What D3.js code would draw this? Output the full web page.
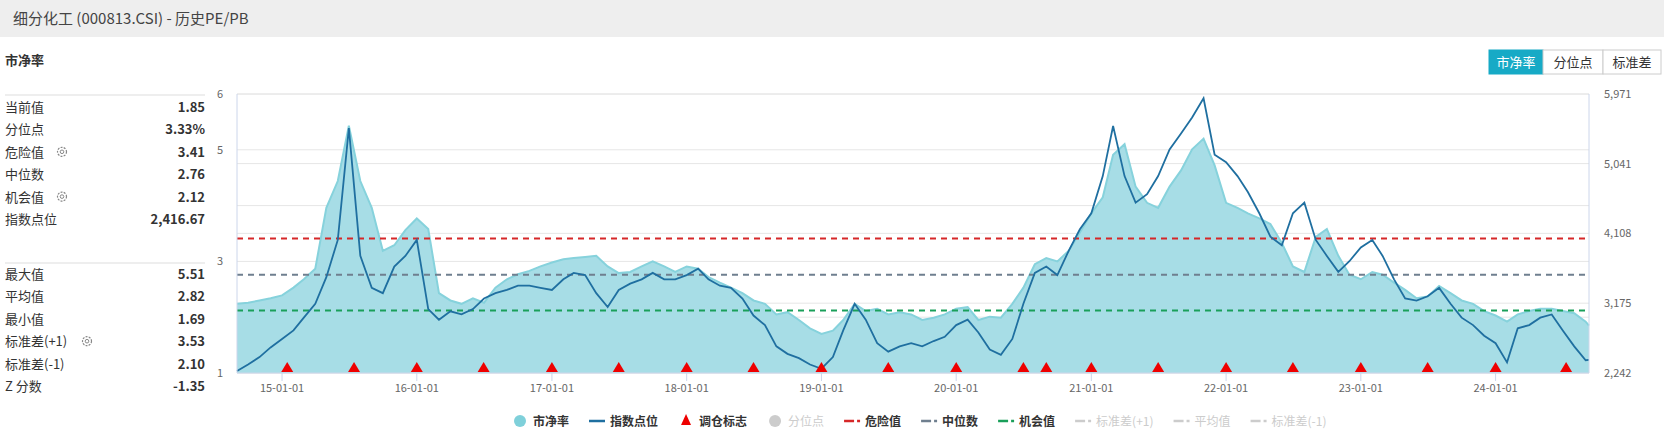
<!DOCTYPE html>
<html><head><meta charset="utf-8">
<script src="https://cdn.jsdelivr.net/npm/d3@7"></script>
<style>body{margin:0;background:#fff;font-family:"Noto Sans CJK SC","Noto Sans",sans-serif}</style>
</head><body><svg id="c" width="1664" height="447"></svg>
<script>
const months = d3.timeMonths(new Date(2014,8,1), new Date(2024,9,1)); // 2014-09 .. 2024-09
const pbValues = [2.24,2.26,2.30,2.34,
2.39,2.53,2.68,2.87,3.96,4.44,5.43,4.44,3.96,3.19,3.29,3.56,
3.77,3.58,2.43,2.30,2.24,2.34,2.26,2.53,2.68,2.77,2.83,2.91,
2.98,3.04,3.06,3.08,3.10,2.91,2.79,2.81,2.91,3.00,2.91,2.81,
2.91,2.87,2.72,2.62,2.53,2.43,2.30,2.24,2.05,2.09,1.95,1.80,
1.70,1.76,1.95,2.24,2.11,2.15,2.05,2.09,2.05,1.95,1.99,2.05,
2.15,2.18,1.95,2.01,1.99,2.24,2.53,2.95,3.06,3.00,3.19,3.52,
3.86,4.15,4.91,5.10,4.34,4.05,3.96,4.34,4.63,5.01,5.20,4.72,
4.05,3.96,3.86,3.77,3.67,3.33,2.91,2.81,3.44,3.58,3.10,2.76,
2.68,2.81,2.76,2.62,2.49,2.34,2.37,2.56,2.43,2.30,2.24,2.11,
2.03,1.92,2.05,2.11,2.15,2.15,2.11,2.07,1.92];
const indexValues = [2270,2356,2455,2584,
2697,2811,2982,3167,3523,4021,5515,3807,3380,3309,3665,3807,
4021,3096,2954,3067,3025,3096,3238,3309,3352,3409,3409,3380,
3352,3494,3580,3551,3309,3124,3352,3437,3494,3580,3494,3494,
3551,3637,3494,3409,3380,3238,3010,2882,2598,2498,2441,2356,
2299,2455,2811,3167,2954,2640,2527,2598,2640,2598,2669,2726,
2882,2954,2783,2555,2484,2697,3167,3580,3665,3551,3878,4163,
4377,4874,5543,4874,4519,4633,4874,5230,5444,5657,5913,5159,
5060,4874,4661,4377,4063,3950,4377,4519,4021,3807,3594,3736,
3921,4021,3807,3494,3238,3210,3267,3380,3167,2982,2882,2740,
2640,2384,2840,2882,2982,3025,2811,2598,2413];
const endDate = new Date(2024,8,10), endPb = 1.85, endIndex = 2416.67;
const rebalanceDates = ["2015-01-15","2015-07-15","2016-01-01","2016-06-30","2017-01-01","2017-07-01","2018-01-01","2018-07-01","2019-01-01","2019-07-01","2020-01-01","2020-07-01","2020-09-01","2021-01-01","2021-07-01","2022-01-01","2022-07-01","2023-01-01","2023-07-01","2024-01-01","2024-07-10"];
const refLines = [{name:"危险值",v:3.41,c:"#d62728"},{name:"中位数",v:2.76,c:"#6f7f8f"},{name:"机会值",v:2.12,c:"#1a9f5a"}];
const leftTicks = [1,3,5,6], leftGrid=[1,2,3,4,5,6];
const rightTicks = [2242,3175,4108,5041,5971];
const statsTop = [["当前值","1.85",0],["分位点","3.33%",0],["危险值","3.41",1],["中位数","2.76",0],["机会值","2.12",1],["指数点位","2,416.67",0]];
const statsBottom = [["最大值","5.51",0],["平均值","2.82",0],["最小值","1.69",0],["标准差(+1)","3.53",1],["标准差(-1)","2.10",0],["Z 分数","-1.35",0]];
const xTickLabels = ["15-01-01","16-01-01","17-01-01","18-01-01","19-01-01","20-01-01","21-01-01","22-01-01","23-01-01","24-01-01"];
const legendItems = [["市净率","circle","#7fd0da",1],["指数点位","line","#1f6fa0",1],["调仓标志","tri","#ee0000",1],["分位点","circle","#cccccc",0],["危险值","dash","#d62728",1],["中位数","dash","#6f7f8f",1],["机会值","dash","#1a9f5a",1],["标准差(+1)","dash","#cccccc",0],["平均值","dash","#cccccc",0],["标准差(-1)","dash","#cccccc",0]];

const pbData = months.map((d,i)=>({d,v:pbValues[i]})).slice(0,pbValues.length); pbData.push({d:endDate,v:endPb});
const idxData = months.map((d,i)=>({d,v:indexValues[i]})).slice(0,indexValues.length); idxData.push({d:endDate,v:endIndex});

const svg=d3.select("#c");
const L=237,R=1589,T=94,B=373;
const x=d3.scaleTime().domain([new Date(2014,8,1),endDate]).range([L,R]);
const yL=d3.scaleLinear().domain([1,6]).range([B,T]);
const yR=d3.scaleLinear().domain([2242,5971]).range([B,T]);

svg.append("rect").attr("width",1664).attr("height",37).attr("fill","#eeeeee");
svg.append("text").attr("x",13).attr("y",24).attr("font-size",15).attr("fill","#444").text("细分化工 (000813.CSI) - 历史PE/PB");
svg.append("text").attr("x",5).attr("y",65).attr("font-size",13).attr("font-weight","bold").attr("fill","#333").text("市净率");

const VX=205;
function stats(rows,y0,lineY){
  svg.append("line").attr("x1",5).attr("x2",VX).attr("y1",lineY).attr("y2",lineY).attr("stroke","#ddd");
  rows.forEach((r,i)=>{const y=y0+i*22.4;
    svg.append("text").attr("x",5).attr("y",y).attr("font-size",13).attr("fill","#333").text(r[0]);
    if(r[2]){const w=r[0].length>3?75:50; const g=svg.append("g").attr("transform",`translate(${w+12},${y-5})`);
      g.append("circle").attr("r",4.5).attr("fill","none").attr("stroke","#888").attr("stroke-width",1.2).attr("stroke-dasharray","2 1.2");
      g.append("circle").attr("r",1.8).attr("fill","none").attr("stroke","#888");}
    svg.append("text").attr("x",VX).attr("y",y).attr("text-anchor","end").attr("font-size",13).attr("font-weight","bold").attr("fill","#333").text(r[1]);
  });
}
stats(statsTop,112,95); stats(statsBottom,279,263);

[["市净率",1489,1543,1],["分位点",1543,1603,0],["标准差",1603,1661,0]].forEach(b=>{
  svg.append("rect").attr("x",b[1]).attr("y",50).attr("width",b[2]-b[1]).attr("height",24).attr("fill",b[3]?"#17aac6":"#fff").attr("stroke",b[3]?"#17aac6":"#ccc");
  svg.append("text").attr("x",(b[1]+b[2])/2).attr("y",67).attr("text-anchor","middle").attr("font-size",13).attr("fill",b[3]?"#fff":"#333").text(b[0]);
});

leftGrid.forEach(v=>svg.append("line").attr("x1",L).attr("x2",R).attr("y1",yL(v)).attr("y2",yL(v)).attr("stroke","#e6e6e6"));
rightTicks.forEach(v=>svg.append("line").attr("x1",L).attr("x2",R).attr("y1",yR(v)).attr("y2",yR(v)).attr("stroke","#e6e6e6"));
leftTicks.forEach(v=>svg.append("text").attr("x",L-14).attr("y",yL(v)+4).attr("text-anchor","end").attr("font-size",11).attr("fill","#666").text(v));
rightTicks.forEach(v=>svg.append("text").attr("x",R+15).attr("y",yR(v)+4).attr("font-size",11).attr("fill","#666").text(d3.format(",")(v)));

svg.append("path").datum(pbData).attr("fill","#a7dde6").attr("d",d3.area().x(d=>x(d.d)).y0(B).y1(d=>yL(d.v)));
svg.append("path").datum(pbData).attr("fill","none").attr("stroke","#86d2dc").attr("stroke-width",2).attr("d",d3.line().x(d=>x(d.d)).y(d=>yL(d.v)));
refLines.forEach(r=>svg.append("line").attr("x1",L).attr("x2",R).attr("y1",yL(r.v)).attr("y2",yL(r.v)).attr("stroke",r.c).attr("stroke-width",2).attr("stroke-dasharray","6 5"));
svg.append("path").datum(idxData).attr("fill","none").attr("stroke","#1f6fa0").attr("stroke-width",1.8).attr("d",d3.line().x(d=>x(d.d)).y(d=>yR(d.v)));

svg.append("line").attr("x1",L).attr("x2",L).attr("y1",T).attr("y2",B).attr("stroke","#ccd6eb");
svg.append("line").attr("x1",R).attr("x2",R).attr("y1",T).attr("y2",B).attr("stroke","#ccd6eb");
svg.append("line").attr("x1",L).attr("x2",R).attr("y1",B).attr("y2",B).attr("stroke","#ccd6eb");
xTickLabels.forEach(s=>{const d=d3.timeParse("%y-%m-%d")(s); const xx=x(d);
  svg.append("line").attr("x1",xx).attr("x2",xx).attr("y1",B).attr("y2",B+8).attr("stroke","#ccd6eb");
  svg.append("text").attr("x",xx).attr("y",B+19).attr("text-anchor","middle").attr("font-size",11).attr("fill","#666").text(s);});
rebalanceDates.forEach(s=>{const xx=x(d3.timeParse("%Y-%m-%d")(s));
  svg.append("path").attr("d",`M${xx},${B-11}L${xx+6},${B-1}L${xx-6},${B-1}Z`).attr("fill","#ee0000");});

let lx=520; const ly=421;
legendItems.forEach(it=>{const g=svg.append("g").attr("transform",`translate(${lx},${ly})`);
  if(it[1]=="circle") g.append("circle").attr("cx",0).attr("r",6).attr("fill",it[2]);
  else if(it[1]=="line") g.append("line").attr("x1",-8).attr("x2",8).attr("stroke",it[2]).attr("stroke-width",2.5);
  else if(it[1]=="tri") g.append("path").attr("d","M0,-7L5,4L-5,4Z").attr("fill",it[2]);
  else {g.append("line").attr("x1",-8).attr("x2",2).attr("stroke",it[2]).attr("stroke-width",2.5);g.append("line").attr("x1",5).attr("x2",8).attr("stroke",it[2]).attr("stroke-width",2.5);}
  const t=g.append("text").attr("x",13).attr("y",4.5).attr("font-size",12).attr("font-weight",it[3]?"bold":"normal").attr("fill",it[3]?"#333":"#ccc").text(it[0]);
  lx+=13+t.node().getComputedTextLength()+28;
});
</script></body></html>
